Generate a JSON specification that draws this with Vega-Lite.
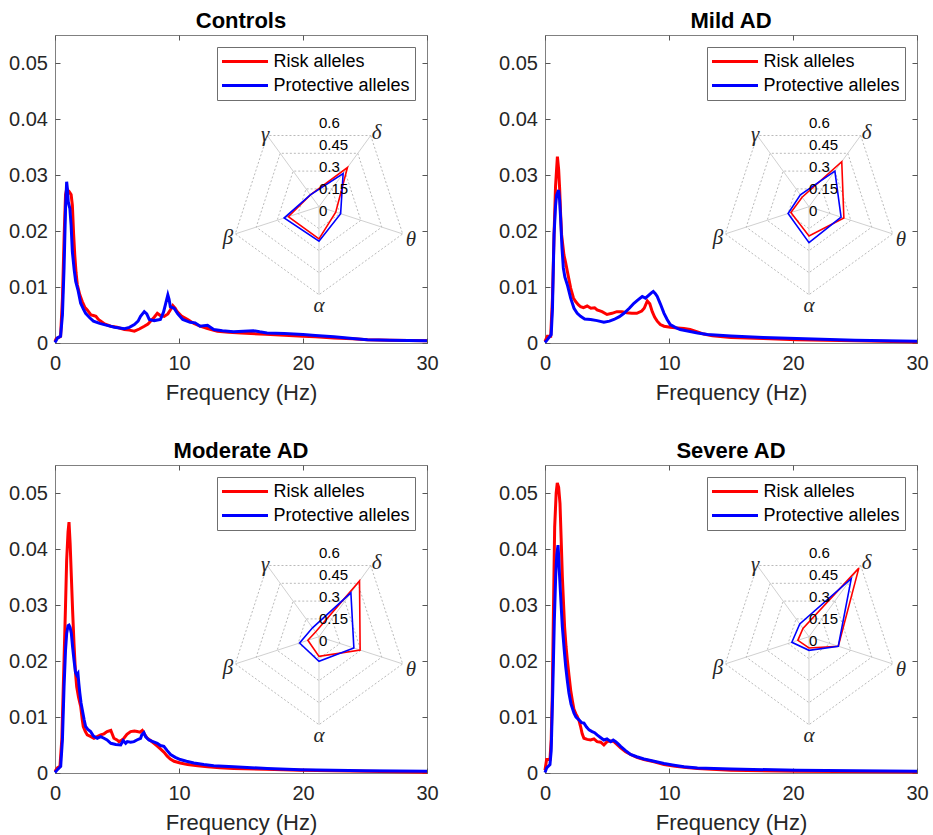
{
"$schema": "https://vega.github.io/schema/vega-lite/v6.json",
"padding": {"left": 8, "top": 9, "right": 5, "bottom": 2},
"background": "white",
"datasets": {
"psd": [
{"p":"C","g":"R","f":0,"v":0.0003},{"p":"C","g":"R","f":0.1,"v":0.0008},{"p":"C","g":"R","f":0.3,"v":0.001},{"p":"C","g":"R","f":0.45,"v":0.0012},{"p":"C","g":"R","f":0.6,"v":0.008},{"p":"C","g":"R","f":0.75,"v":0.02},{"p":"C","g":"R","f":0.85,"v":0.0265},{"p":"C","g":"R","f":0.95,"v":0.0276},{"p":"C","g":"R","f":1.05,"v":0.0268},{"p":"C","g":"R","f":1.15,"v":0.027},{"p":"C","g":"R","f":1.3,"v":0.0265},{"p":"C","g":"R","f":1.4,"v":0.0246},{"p":"C","g":"R","f":1.5,"v":0.0195},{"p":"C","g":"R","f":1.6,"v":0.0155},{"p":"C","g":"R","f":1.7,"v":0.0125},{"p":"C","g":"R","f":1.8,"v":0.0104},{"p":"C","g":"R","f":2,"v":0.0086},{"p":"C","g":"R","f":2.2,"v":0.0074},{"p":"C","g":"R","f":2.4,"v":0.0064},{"p":"C","g":"R","f":2.6,"v":0.0059},{"p":"C","g":"R","f":2.9,"v":0.005},{"p":"C","g":"R","f":3.1,"v":0.0049},{"p":"C","g":"R","f":3.3,"v":0.00475},{"p":"C","g":"R","f":3.5,"v":0.0042},{"p":"C","g":"R","f":3.7,"v":0.0039},{"p":"C","g":"R","f":4,"v":0.0034},{"p":"C","g":"R","f":4.5,"v":0.003},{"p":"C","g":"R","f":5,"v":0.0028},{"p":"C","g":"R","f":5.6,"v":0.0024},{"p":"C","g":"R","f":6,"v":0.0023},{"p":"C","g":"R","f":6.4,"v":0.0021},{"p":"C","g":"R","f":6.8,"v":0.0025},{"p":"C","g":"R","f":7.2,"v":0.003},{"p":"C","g":"R","f":7.5,"v":0.0034},{"p":"C","g":"R","f":7.7,"v":0.0039},{"p":"C","g":"R","f":8,"v":0.0046},{"p":"C","g":"R","f":8.25,"v":0.0053},{"p":"C","g":"R","f":8.5,"v":0.0049},{"p":"C","g":"R","f":8.8,"v":0.00475},{"p":"C","g":"R","f":9.1,"v":0.0052},{"p":"C","g":"R","f":9.3,"v":0.0059},{"p":"C","g":"R","f":9.5,"v":0.0067},{"p":"C","g":"R","f":9.7,"v":0.0062},{"p":"C","g":"R","f":9.85,"v":0.0056},{"p":"C","g":"R","f":10.2,"v":0.0048},{"p":"C","g":"R","f":10.7,"v":0.0042},{"p":"C","g":"R","f":11.2,"v":0.0035},{"p":"C","g":"R","f":11.7,"v":0.003},{"p":"C","g":"R","f":12.3,"v":0.0026},{"p":"C","g":"R","f":13.1,"v":0.0021},{"p":"C","g":"R","f":14,"v":0.0019},{"p":"C","g":"R","f":15,"v":0.0018},{"p":"C","g":"R","f":15.8,"v":0.0017},{"p":"C","g":"R","f":17,"v":0.00155},{"p":"C","g":"R","f":18.5,"v":0.0014},{"p":"C","g":"R","f":20,"v":0.0012},{"p":"C","g":"R","f":21,"v":0.0011},{"p":"C","g":"R","f":22.5,"v":0.0009},{"p":"C","g":"R","f":24,"v":0.00075},{"p":"C","g":"R","f":25.2,"v":0.0006},{"p":"C","g":"R","f":27,"v":0.0005},{"p":"C","g":"R","f":30,"v":0.0004},
{"p":"C","g":"P","f":0,"v":0.0001},{"p":"C","g":"P","f":0.2,"v":0.0009},{"p":"C","g":"P","f":0.45,"v":0.0012},{"p":"C","g":"P","f":0.6,"v":0.005},{"p":"C","g":"P","f":0.73,"v":0.0134},{"p":"C","g":"P","f":0.85,"v":0.024},{"p":"C","g":"P","f":0.94,"v":0.0288},{"p":"C","g":"P","f":1,"v":0.0275},{"p":"C","g":"P","f":1.07,"v":0.0252},{"p":"C","g":"P","f":1.2,"v":0.024},{"p":"C","g":"P","f":1.3,"v":0.021},{"p":"C","g":"P","f":1.4,"v":0.0163},{"p":"C","g":"P","f":1.55,"v":0.013},{"p":"C","g":"P","f":1.67,"v":0.011},{"p":"C","g":"P","f":1.85,"v":0.0095},{"p":"C","g":"P","f":2.07,"v":0.0071},{"p":"C","g":"P","f":2.3,"v":0.006},{"p":"C","g":"P","f":2.47,"v":0.0053},{"p":"C","g":"P","f":2.8,"v":0.0045},{"p":"C","g":"P","f":3.1,"v":0.0039},{"p":"C","g":"P","f":3.6,"v":0.0035},{"p":"C","g":"P","f":4.2,"v":0.00315},{"p":"C","g":"P","f":4.8,"v":0.0028},{"p":"C","g":"P","f":5.6,"v":0.00255},{"p":"C","g":"P","f":6,"v":0.0028},{"p":"C","g":"P","f":6.4,"v":0.0033},{"p":"C","g":"P","f":6.7,"v":0.0039},{"p":"C","g":"P","f":6.9,"v":0.00475},{"p":"C","g":"P","f":7.2,"v":0.0056},{"p":"C","g":"P","f":7.4,"v":0.0052},{"p":"C","g":"P","f":7.6,"v":0.0042},{"p":"C","g":"P","f":8,"v":0.004},{"p":"C","g":"P","f":8.5,"v":0.0042},{"p":"C","g":"P","f":8.75,"v":0.0055},{"p":"C","g":"P","f":8.9,"v":0.0068},{"p":"C","g":"P","f":9.1,"v":0.0086},{"p":"C","g":"P","f":9.2,"v":0.0078},{"p":"C","g":"P","f":9.3,"v":0.0065},{"p":"C","g":"P","f":9.6,"v":0.0062},{"p":"C","g":"P","f":9.9,"v":0.0052},{"p":"C","g":"P","f":10.3,"v":0.0042},{"p":"C","g":"P","f":10.9,"v":0.0037},{"p":"C","g":"P","f":11.3,"v":0.0036},{"p":"C","g":"P","f":11.7,"v":0.003},{"p":"C","g":"P","f":12,"v":0.0031},{"p":"C","g":"P","f":12.3,"v":0.00315},{"p":"C","g":"P","f":12.8,"v":0.0024},{"p":"C","g":"P","f":13.5,"v":0.0022},{"p":"C","g":"P","f":14.4,"v":0.002},{"p":"C","g":"P","f":15.2,"v":0.0021},{"p":"C","g":"P","f":16,"v":0.0022},{"p":"C","g":"P","f":16.5,"v":0.002},{"p":"C","g":"P","f":17.1,"v":0.0018},{"p":"C","g":"P","f":18.5,"v":0.0017},{"p":"C","g":"P","f":20,"v":0.0015},{"p":"C","g":"P","f":21,"v":0.00135},{"p":"C","g":"P","f":22.5,"v":0.0011},{"p":"C","g":"P","f":24,"v":0.0008},{"p":"C","g":"P","f":25.2,"v":0.0006},{"p":"C","g":"P","f":27,"v":0.0005},{"p":"C","g":"P","f":30,"v":0.0004},
{"p":"M","g":"R","f":0,"v":0.0003},{"p":"M","g":"R","f":0.19,"v":0.0012},{"p":"M","g":"R","f":0.46,"v":0.0012},{"p":"M","g":"R","f":0.6,"v":0.008},{"p":"M","g":"R","f":0.73,"v":0.0193},{"p":"M","g":"R","f":0.85,"v":0.028},{"p":"M","g":"R","f":1,"v":0.0333},{"p":"M","g":"R","f":1.1,"v":0.031},{"p":"M","g":"R","f":1.18,"v":0.0276},{"p":"M","g":"R","f":1.26,"v":0.023},{"p":"M","g":"R","f":1.34,"v":0.0193},{"p":"M","g":"R","f":1.53,"v":0.0157},{"p":"M","g":"R","f":1.65,"v":0.0145},{"p":"M","g":"R","f":1.8,"v":0.0128},{"p":"M","g":"R","f":2.07,"v":0.0098},{"p":"M","g":"R","f":2.3,"v":0.008},{"p":"M","g":"R","f":2.47,"v":0.0074},{"p":"M","g":"R","f":2.7,"v":0.0068},{"p":"M","g":"R","f":2.87,"v":0.0065},{"p":"M","g":"R","f":3.1,"v":0.0063},{"p":"M","g":"R","f":3.4,"v":0.0066},{"p":"M","g":"R","f":3.7,"v":0.0062},{"p":"M","g":"R","f":4,"v":0.0063},{"p":"M","g":"R","f":4.2,"v":0.0059},{"p":"M","g":"R","f":4.6,"v":0.0056},{"p":"M","g":"R","f":5,"v":0.0051},{"p":"M","g":"R","f":5.4,"v":0.0053},{"p":"M","g":"R","f":5.8,"v":0.0056},{"p":"M","g":"R","f":6.2,"v":0.0056},{"p":"M","g":"R","f":6.6,"v":0.0054},{"p":"M","g":"R","f":7,"v":0.0053},{"p":"M","g":"R","f":7.4,"v":0.0053},{"p":"M","g":"R","f":7.8,"v":0.0057},{"p":"M","g":"R","f":8,"v":0.0062},{"p":"M","g":"R","f":8.25,"v":0.0075},{"p":"M","g":"R","f":8.45,"v":0.007},{"p":"M","g":"R","f":8.65,"v":0.0056},{"p":"M","g":"R","f":8.85,"v":0.0046},{"p":"M","g":"R","f":9.05,"v":0.0039},{"p":"M","g":"R","f":9.3,"v":0.0033},{"p":"M","g":"R","f":9.6,"v":0.003},{"p":"M","g":"R","f":10.1,"v":0.0028},{"p":"M","g":"R","f":10.7,"v":0.0027},{"p":"M","g":"R","f":11.2,"v":0.0026},{"p":"M","g":"R","f":11.7,"v":0.0024},{"p":"M","g":"R","f":12.3,"v":0.002},{"p":"M","g":"R","f":12.8,"v":0.0016},{"p":"M","g":"R","f":13.5,"v":0.0013},{"p":"M","g":"R","f":15,"v":0.001},{"p":"M","g":"R","f":17.6,"v":0.0008},{"p":"M","g":"R","f":20.3,"v":0.0006},{"p":"M","g":"R","f":25,"v":0.0004},{"p":"M","g":"R","f":30,"v":0.0002},
{"p":"M","g":"P","f":0,"v":0.0001},{"p":"M","g":"P","f":0.19,"v":0.0006},{"p":"M","g":"P","f":0.5,"v":0.0015},{"p":"M","g":"P","f":0.6,"v":0.006},{"p":"M","g":"P","f":0.73,"v":0.0193},{"p":"M","g":"P","f":0.85,"v":0.0245},{"p":"M","g":"P","f":0.94,"v":0.0264},{"p":"M","g":"P","f":1.1,"v":0.0273},{"p":"M","g":"P","f":1.18,"v":0.0255},{"p":"M","g":"P","f":1.26,"v":0.0223},{"p":"M","g":"P","f":1.37,"v":0.017},{"p":"M","g":"P","f":1.48,"v":0.0134},{"p":"M","g":"P","f":1.6,"v":0.0118},{"p":"M","g":"P","f":1.8,"v":0.0104},{"p":"M","g":"P","f":2.07,"v":0.008},{"p":"M","g":"P","f":2.34,"v":0.0062},{"p":"M","g":"P","f":2.6,"v":0.0053},{"p":"M","g":"P","f":2.87,"v":0.00475},{"p":"M","g":"P","f":3.2,"v":0.0043},{"p":"M","g":"P","f":3.68,"v":0.0042},{"p":"M","g":"P","f":4.2,"v":0.004},{"p":"M","g":"P","f":4.75,"v":0.0037},{"p":"M","g":"P","f":5.2,"v":0.0039},{"p":"M","g":"P","f":5.56,"v":0.0042},{"p":"M","g":"P","f":6,"v":0.0047},{"p":"M","g":"P","f":6.37,"v":0.0053},{"p":"M","g":"P","f":6.8,"v":0.0062},{"p":"M","g":"P","f":7.17,"v":0.0071},{"p":"M","g":"P","f":7.5,"v":0.0077},{"p":"M","g":"P","f":7.84,"v":0.0083},{"p":"M","g":"P","f":8.1,"v":0.008},{"p":"M","g":"P","f":8.4,"v":0.0086},{"p":"M","g":"P","f":8.6,"v":0.009},{"p":"M","g":"P","f":8.73,"v":0.0092},{"p":"M","g":"P","f":8.9,"v":0.0088},{"p":"M","g":"P","f":9.05,"v":0.0083},{"p":"M","g":"P","f":9.3,"v":0.007},{"p":"M","g":"P","f":9.6,"v":0.0053},{"p":"M","g":"P","f":9.85,"v":0.0042},{"p":"M","g":"P","f":10.1,"v":0.0033},{"p":"M","g":"P","f":10.5,"v":0.0028},{"p":"M","g":"P","f":10.9,"v":0.0024},{"p":"M","g":"P","f":11.6,"v":0.0021},{"p":"M","g":"P","f":12.3,"v":0.0018},{"p":"M","g":"P","f":13.1,"v":0.0015},{"p":"M","g":"P","f":15,"v":0.00125},{"p":"M","g":"P","f":17.6,"v":0.001},{"p":"M","g":"P","f":20.3,"v":0.0008},{"p":"M","g":"P","f":25,"v":0.0005},{"p":"M","g":"P","f":30,"v":0.0003},
{"p":"Mo","g":"R","f":0,"v":0.0003},{"p":"Mo","g":"R","f":0.19,"v":0.0009},{"p":"Mo","g":"R","f":0.4,"v":0.0012},{"p":"Mo","g":"R","f":0.55,"v":0.006},{"p":"Mo","g":"R","f":0.73,"v":0.0202},{"p":"Mo","g":"R","f":0.85,"v":0.03},{"p":"Mo","g":"R","f":0.94,"v":0.038},{"p":"Mo","g":"R","f":1.05,"v":0.043},{"p":"Mo","g":"R","f":1.13,"v":0.0448},{"p":"Mo","g":"R","f":1.22,"v":0.041},{"p":"Mo","g":"R","f":1.32,"v":0.035},{"p":"Mo","g":"R","f":1.42,"v":0.029},{"p":"Mo","g":"R","f":1.53,"v":0.0232},{"p":"Mo","g":"R","f":1.65,"v":0.018},{"p":"Mo","g":"R","f":1.75,"v":0.0154},{"p":"Mo","g":"R","f":1.9,"v":0.0135},{"p":"Mo","g":"R","f":2.07,"v":0.0119},{"p":"Mo","g":"R","f":2.2,"v":0.0095},{"p":"Mo","g":"R","f":2.28,"v":0.0083},{"p":"Mo","g":"R","f":2.45,"v":0.0074},{"p":"Mo","g":"R","f":2.6,"v":0.0068},{"p":"Mo","g":"R","f":2.9,"v":0.0065},{"p":"Mo","g":"R","f":3.14,"v":0.0062},{"p":"Mo","g":"R","f":3.4,"v":0.0065},{"p":"Mo","g":"R","f":3.68,"v":0.0068},{"p":"Mo","g":"R","f":3.95,"v":0.007},{"p":"Mo","g":"R","f":4.2,"v":0.0074},{"p":"Mo","g":"R","f":4.5,"v":0.0076},{"p":"Mo","g":"R","f":4.75,"v":0.0062},{"p":"Mo","g":"R","f":5,"v":0.0059},{"p":"Mo","g":"R","f":5.16,"v":0.0056},{"p":"Mo","g":"R","f":5.4,"v":0.0059},{"p":"Mo","g":"R","f":5.56,"v":0.0062},{"p":"Mo","g":"R","f":5.8,"v":0.0069},{"p":"Mo","g":"R","f":6.1,"v":0.0074},{"p":"Mo","g":"R","f":6.4,"v":0.0075},{"p":"Mo","g":"R","f":6.63,"v":0.0074},{"p":"Mo","g":"R","f":6.85,"v":0.0073},{"p":"Mo","g":"R","f":7.04,"v":0.0076},{"p":"Mo","g":"R","f":7.2,"v":0.007},{"p":"Mo","g":"R","f":7.44,"v":0.0062},{"p":"Mo","g":"R","f":7.7,"v":0.0058},{"p":"Mo","g":"R","f":7.98,"v":0.0053},{"p":"Mo","g":"R","f":8.25,"v":0.0048},{"p":"Mo","g":"R","f":8.5,"v":0.0043},{"p":"Mo","g":"R","f":8.8,"v":0.0037},{"p":"Mo","g":"R","f":9.05,"v":0.003},{"p":"Mo","g":"R","f":9.3,"v":0.0025},{"p":"Mo","g":"R","f":9.6,"v":0.0021},{"p":"Mo","g":"R","f":10.1,"v":0.0018},{"p":"Mo","g":"R","f":10.7,"v":0.0015},{"p":"Mo","g":"R","f":11.5,"v":0.0013},{"p":"Mo","g":"R","f":12.3,"v":0.0011},{"p":"Mo","g":"R","f":13.3,"v":0.00095},{"p":"Mo","g":"R","f":14.4,"v":0.0008},{"p":"Mo","g":"R","f":17,"v":0.00065},{"p":"Mo","g":"R","f":19.8,"v":0.0005},{"p":"Mo","g":"R","f":25,"v":0.0003},{"p":"Mo","g":"R","f":30,"v":0.00015},
{"p":"Mo","g":"P","f":0,"v":0.0001},{"p":"Mo","g":"P","f":0.19,"v":0.0006},{"p":"Mo","g":"P","f":0.46,"v":0.0012},{"p":"Mo","g":"P","f":0.6,"v":0.006},{"p":"Mo","g":"P","f":0.73,"v":0.0154},{"p":"Mo","g":"P","f":0.85,"v":0.022},{"p":"Mo","g":"P","f":0.94,"v":0.0249},{"p":"Mo","g":"P","f":1.05,"v":0.0263},{"p":"Mo","g":"P","f":1.13,"v":0.0264},{"p":"Mo","g":"P","f":1.22,"v":0.026},{"p":"Mo","g":"P","f":1.32,"v":0.0249},{"p":"Mo","g":"P","f":1.42,"v":0.0225},{"p":"Mo","g":"P","f":1.53,"v":0.0202},{"p":"Mo","g":"P","f":1.65,"v":0.018},{"p":"Mo","g":"P","f":1.75,"v":0.0175},{"p":"Mo","g":"P","f":1.85,"v":0.0178},{"p":"Mo","g":"P","f":1.92,"v":0.016},{"p":"Mo","g":"P","f":2,"v":0.0143},{"p":"Mo","g":"P","f":2.1,"v":0.0125},{"p":"Mo","g":"P","f":2.2,"v":0.0113},{"p":"Mo","g":"P","f":2.35,"v":0.0095},{"p":"Mo","g":"P","f":2.47,"v":0.0083},{"p":"Mo","g":"P","f":2.65,"v":0.0078},{"p":"Mo","g":"P","f":2.87,"v":0.0074},{"p":"Mo","g":"P","f":3.1,"v":0.0066},{"p":"Mo","g":"P","f":3.41,"v":0.0062},{"p":"Mo","g":"P","f":3.68,"v":0.0065},{"p":"Mo","g":"P","f":3.95,"v":0.0062},{"p":"Mo","g":"P","f":4.2,"v":0.0059},{"p":"Mo","g":"P","f":4.5,"v":0.0053},{"p":"Mo","g":"P","f":4.9,"v":0.0051},{"p":"Mo","g":"P","f":5.3,"v":0.005},{"p":"Mo","g":"P","f":5.5,"v":0.0058},{"p":"Mo","g":"P","f":5.7,"v":0.0053},{"p":"Mo","g":"P","f":5.83,"v":0.0056},{"p":"Mo","g":"P","f":6.1,"v":0.0055},{"p":"Mo","g":"P","f":6.37,"v":0.0056},{"p":"Mo","g":"P","f":6.6,"v":0.0059},{"p":"Mo","g":"P","f":6.9,"v":0.0062},{"p":"Mo","g":"P","f":7,"v":0.0068},{"p":"Mo","g":"P","f":7.17,"v":0.0072},{"p":"Mo","g":"P","f":7.3,"v":0.0065},{"p":"Mo","g":"P","f":7.57,"v":0.0059},{"p":"Mo","g":"P","f":7.9,"v":0.0056},{"p":"Mo","g":"P","f":8.25,"v":0.0053},{"p":"Mo","g":"P","f":8.5,"v":0.0049},{"p":"Mo","g":"P","f":8.78,"v":0.00475},{"p":"Mo","g":"P","f":9.05,"v":0.004},{"p":"Mo","g":"P","f":9.32,"v":0.0033},{"p":"Mo","g":"P","f":9.7,"v":0.0028},{"p":"Mo","g":"P","f":10.1,"v":0.0024},{"p":"Mo","g":"P","f":10.6,"v":0.0021},{"p":"Mo","g":"P","f":11.2,"v":0.0018},{"p":"Mo","g":"P","f":12,"v":0.0015},{"p":"Mo","g":"P","f":12.8,"v":0.0013},{"p":"Mo","g":"P","f":14.4,"v":0.0011},{"p":"Mo","g":"P","f":17.1,"v":0.0008},{"p":"Mo","g":"P","f":19.8,"v":0.0006},{"p":"Mo","g":"P","f":25,"v":0.0004},{"p":"Mo","g":"P","f":30,"v":0.0003},
{"p":"S","g":"R","f":0,"v":0.0005},{"p":"S","g":"R","f":0.13,"v":0.0024},{"p":"S","g":"R","f":0.4,"v":0.0024},{"p":"S","g":"R","f":0.5,"v":0.006},{"p":"S","g":"R","f":0.59,"v":0.0143},{"p":"S","g":"R","f":0.7,"v":0.032},{"p":"S","g":"R","f":0.78,"v":0.0439},{"p":"S","g":"R","f":0.9,"v":0.05},{"p":"S","g":"R","f":0.99,"v":0.0518},{"p":"S","g":"R","f":1.1,"v":0.051},{"p":"S","g":"R","f":1.21,"v":0.0481},{"p":"S","g":"R","f":1.3,"v":0.042},{"p":"S","g":"R","f":1.4,"v":0.035},{"p":"S","g":"R","f":1.5,"v":0.03},{"p":"S","g":"R","f":1.58,"v":0.0261},{"p":"S","g":"R","f":1.7,"v":0.0225},{"p":"S","g":"R","f":1.8,"v":0.0202},{"p":"S","g":"R","f":1.93,"v":0.0175},{"p":"S","g":"R","f":2.07,"v":0.0148},{"p":"S","g":"R","f":2.2,"v":0.013},{"p":"S","g":"R","f":2.34,"v":0.0113},{"p":"S","g":"R","f":2.5,"v":0.0105},{"p":"S","g":"R","f":2.6,"v":0.0101},{"p":"S","g":"R","f":2.75,"v":0.0093},{"p":"S","g":"R","f":2.87,"v":0.0083},{"p":"S","g":"R","f":3,"v":0.007},{"p":"S","g":"R","f":3.14,"v":0.0062},{"p":"S","g":"R","f":3.4,"v":0.006},{"p":"S","g":"R","f":3.68,"v":0.0059},{"p":"S","g":"R","f":3.95,"v":0.0061},{"p":"S","g":"R","f":4.2,"v":0.0056},{"p":"S","g":"R","f":4.5,"v":0.0055},{"p":"S","g":"R","f":4.75,"v":0.005},{"p":"S","g":"R","f":5,"v":0.0056},{"p":"S","g":"R","f":5.3,"v":0.0057},{"p":"S","g":"R","f":5.56,"v":0.0056},{"p":"S","g":"R","f":5.8,"v":0.0051},{"p":"S","g":"R","f":6.1,"v":0.0045},{"p":"S","g":"R","f":6.5,"v":0.0038},{"p":"S","g":"R","f":6.9,"v":0.0033},{"p":"S","g":"R","f":7.4,"v":0.0028},{"p":"S","g":"R","f":7.98,"v":0.0024},{"p":"S","g":"R","f":8.8,"v":0.002},{"p":"S","g":"R","f":9.6,"v":0.0015},{"p":"S","g":"R","f":10.5,"v":0.0012},{"p":"S","g":"R","f":11.4,"v":0.001},{"p":"S","g":"R","f":12.3,"v":0.0008},{"p":"S","g":"R","f":15,"v":0.0005},{"p":"S","g":"R","f":20.3,"v":0.0003},{"p":"S","g":"R","f":30,"v":0.0002},
{"p":"S","g":"P","f":0,"v":0.0001},{"p":"S","g":"P","f":0.13,"v":0.0009},{"p":"S","g":"P","f":0.4,"v":0.0015},{"p":"S","g":"P","f":0.5,"v":0.004},{"p":"S","g":"P","f":0.62,"v":0.0143},{"p":"S","g":"P","f":0.75,"v":0.027},{"p":"S","g":"P","f":0.86,"v":0.035},{"p":"S","g":"P","f":0.95,"v":0.039},{"p":"S","g":"P","f":1.05,"v":0.0407},{"p":"S","g":"P","f":1.12,"v":0.038},{"p":"S","g":"P","f":1.18,"v":0.035},{"p":"S","g":"P","f":1.3,"v":0.03},{"p":"S","g":"P","f":1.4,"v":0.0261},{"p":"S","g":"P","f":1.55,"v":0.022},{"p":"S","g":"P","f":1.67,"v":0.019},{"p":"S","g":"P","f":1.8,"v":0.0165},{"p":"S","g":"P","f":1.93,"v":0.0143},{"p":"S","g":"P","f":2.1,"v":0.0123},{"p":"S","g":"P","f":2.34,"v":0.0107},{"p":"S","g":"P","f":2.5,"v":0.01},{"p":"S","g":"P","f":2.74,"v":0.0095},{"p":"S","g":"P","f":2.95,"v":0.009},{"p":"S","g":"P","f":3.14,"v":0.0089},{"p":"S","g":"P","f":3.35,"v":0.0082},{"p":"S","g":"P","f":3.55,"v":0.0077},{"p":"S","g":"P","f":3.8,"v":0.0074},{"p":"S","g":"P","f":4,"v":0.0072},{"p":"S","g":"P","f":4.2,"v":0.0068},{"p":"S","g":"P","f":4.5,"v":0.0063},{"p":"S","g":"P","f":4.75,"v":0.0059},{"p":"S","g":"P","f":5,"v":0.0061},{"p":"S","g":"P","f":5.3,"v":0.0056},{"p":"S","g":"P","f":5.5,"v":0.0059},{"p":"S","g":"P","f":5.7,"v":0.0056},{"p":"S","g":"P","f":5.9,"v":0.0052},{"p":"S","g":"P","f":6.1,"v":0.00475},{"p":"S","g":"P","f":6.5,"v":0.004},{"p":"S","g":"P","f":6.9,"v":0.0033},{"p":"S","g":"P","f":7.4,"v":0.0029},{"p":"S","g":"P","f":7.98,"v":0.0025},{"p":"S","g":"P","f":8.8,"v":0.0021},{"p":"S","g":"P","f":9.6,"v":0.0017},{"p":"S","g":"P","f":10.4,"v":0.0014},{"p":"S","g":"P","f":11.2,"v":0.0011},{"p":"S","g":"P","f":12.3,"v":0.0009},{"p":"S","g":"P","f":15,"v":0.0007},{"p":"S","g":"P","f":20.3,"v":0.0005},{"p":"S","g":"P","f":25,"v":0.0004},{"p":"S","g":"P","f":30,"v":0.0003}
],
"radar": [
{"p":"C","g":"R","band":"δ","val":0.33},{"p":"C","g":"R","band":"θ","val":0.12},{"p":"C","g":"R","band":"α","val":0.22},{"p":"C","g":"R","band":"β","val":0.22},{"p":"C","g":"R","band":"γ","val":0.1},
{"p":"C","g":"P","band":"δ","val":0.28},{"p":"C","g":"P","band":"θ","val":0.155},{"p":"C","g":"P","band":"α","val":0.235},{"p":"C","g":"P","band":"β","val":0.25},{"p":"C","g":"P","band":"γ","val":0.1},
{"p":"M","g":"R","band":"δ","val":0.38},{"p":"M","g":"R","band":"θ","val":0.25},{"p":"M","g":"R","band":"α","val":0.2},{"p":"M","g":"R","band":"β","val":0.13},{"p":"M","g":"R","band":"γ","val":0.08},
{"p":"M","g":"P","band":"δ","val":0.3},{"p":"M","g":"P","band":"θ","val":0.23},{"p":"M","g":"P","band":"α","val":0.245},{"p":"M","g":"P","band":"β","val":0.15},{"p":"M","g":"P","band":"γ","val":0.1},
{"p":"Mo","g":"R","band":"δ","val":0.47},{"p":"Mo","g":"R","band":"θ","val":0.295},{"p":"Mo","g":"R","band":"α","val":0.134},{"p":"Mo","g":"R","band":"β","val":0.08},{"p":"Mo","g":"R","band":"γ","val":0.04},
{"p":"Mo","g":"P","band":"δ","val":0.37},{"p":"Mo","g":"P","band":"θ","val":0.25},{"p":"Mo","g":"P","band":"α","val":0.168},{"p":"Mo","g":"P","band":"β","val":0.139},{"p":"Mo","g":"P","band":"γ","val":0.075},
{"p":"S","g":"R","band":"δ","val":0.578},{"p":"S","g":"R","band":"θ","val":0.21},{"p":"S","g":"R","band":"α","val":0.077},{"p":"S","g":"R","band":"β","val":0.08},{"p":"S","g":"R","band":"γ","val":0.07},
{"p":"S","g":"P","band":"δ","val":0.49},{"p":"S","g":"P","band":"θ","val":0.21},{"p":"S","g":"P","band":"α","val":0.093},{"p":"S","g":"P","band":"β","val":0.123},{"p":"S","g":"P","band":"γ","val":0.107}
],
"rings": [
{"r":0.15,"band":"δ"},{"r":0.15,"band":"θ"},{"r":0.15,"band":"α"},{"r":0.15,"band":"β"},{"r":0.15,"band":"γ"},
{"r":0.3,"band":"δ"},{"r":0.3,"band":"θ"},{"r":0.3,"band":"α"},{"r":0.3,"band":"β"},{"r":0.3,"band":"γ"},
{"r":0.45,"band":"δ"},{"r":0.45,"band":"θ"},{"r":0.45,"band":"α"},{"r":0.45,"band":"β"},{"r":0.45,"band":"γ"},
{"r":0.6,"band":"δ"},{"r":0.6,"band":"θ"},{"r":0.6,"band":"α"},{"r":0.6,"band":"β"},{"r":0.6,"band":"γ"}
],
"rticks": [{"t":0,"lab":"0"},{"t":0.15,"lab":"0.15"},{"t":0.3,"lab":"0.3"},{"t":0.45,"lab":"0.45"},{"t":0.6,"lab":"0.6"}]
},
"columns": 2,
"spacing": {"row": 122, "column": 118},
"bounds": "flush",
"resolve": {"scale": {"color": "independent"}, "legend": {"color": "independent"}},
"concat": [
{"title": "Controls", "width": 372, "height": 308,
 "resolve": {"scale": {"x": "independent", "y": "independent"}},
 "layer": [
  {"data": {"name": "psd"}, "transform": [{"filter": "datum.p == 'C'"}],
   "mark": {"type": "line", "strokeWidth": 3},
   "encoding": {
    "x": {"field": "f", "type": "quantitative", "scale": {"domain": [0, 30], "nice": false}, "axis": {"orient": "bottom", "values": [0, 10, 20, 30], "title": "Frequency (Hz)", "labelPadding": 15}},
    "y": {"field": "v", "type": "quantitative", "scale": {"domain": [0, 0.055], "nice": false}, "axis": {"orient": "left", "values": [0, 0.01, 0.02, 0.03, 0.04, 0.05], "format": "~g", "title": null, "labelPadding": 12.5}},
    "color": {"field": "g", "type": "nominal", "scale": {"domain": ["R", "P"], "range": ["#ff0000", "#0000ff"]}, "legend": {"title": null, "symbolType": "M-3,0H3", "labelExpr": "datum.value == 'R' ? 'Risk alleles' : 'Protective alleles'"}}
   }},
  {"data": {"name": "psd"}, "transform": [{"filter": "datum.p == 'C'"}],
   "mark": {"type": "point", "opacity": 0},
   "encoding": {
    "x": {"field": "f", "type": "quantitative", "scale": {"domain": [0, 30], "nice": false}, "axis": {"orient": "top", "values": [0, 10, 20, 30], "labels": false, "title": null}},
    "y": {"field": "v", "type": "quantitative", "scale": {"domain": [0, 0.055], "nice": false}, "axis": {"orient": "right", "values": [0, 0.01, 0.02, 0.03, 0.04, 0.05], "labels": false, "title": null}}
   }},
  {"layer": [
   {"data": {"name": "rings"}, "transform": [{"calculate": "indexof(['δ','θ','α','β','γ'], datum.band)", "as": "k"}, {"calculate": "datum.r * sin((36 + 72 * datum.k) * PI / 180)", "as": "gx"}, {"calculate": "datum.r * cos((36 + 72 * datum.k) * PI / 180)", "as": "gy"}],
    "mark": {"type": "line", "interpolate": "linear-closed", "stroke": "#a8a8a8", "strokeWidth": 0.8, "strokeDash": [2, 2]},
    "encoding": {"x": {"field": "gx", "type": "quantitative", "scale": {"domain": [-1.8, 0.7364], "nice": false, "zero": false}, "axis": null}, "y": {"field": "gy", "type": "quantitative", "scale": {"domain": [-0.9293, 1.1707], "nice": false, "zero": false}, "axis": null}, "detail": {"field": "r", "type": "nominal"}, "order": {"field": "k", "type": "quantitative"}}},
   {"data": {"name": "rings"}, "transform": [{"filter": "datum.r == 0.6"}, {"calculate": "indexof(['δ','θ','α','β','γ'], datum.band)", "as": "k"}, {"calculate": "datum.r * sin((36 + 72 * datum.k) * PI / 180)", "as": "gx"}, {"calculate": "datum.r * cos((36 + 72 * datum.k) * PI / 180)", "as": "gy"}],
    "mark": {"type": "rule", "stroke": "#c4c4c4", "strokeWidth": 0.8},
    "encoding": {"x": {"field": "gx", "type": "quantitative", "axis": null}, "y": {"field": "gy", "type": "quantitative", "axis": null}, "x2": {"datum": 0}, "y2": {"datum": 0}}},
   {"data": {"name": "radar"}, "transform": [{"filter": "datum.p == 'C' && datum.g == 'R'"}, {"calculate": "indexof(['δ','θ','α','β','γ'], datum.band)", "as": "k"}, {"calculate": "datum.val * sin((36 + 72 * datum.k) * PI / 180)", "as": "gx"}, {"calculate": "datum.val * cos((36 + 72 * datum.k) * PI / 180)", "as": "gy"}],
    "mark": {"type": "line", "interpolate": "linear-closed", "stroke": "#ff0000", "strokeWidth": 1.6},
    "encoding": {"x": {"field": "gx", "type": "quantitative", "axis": null}, "y": {"field": "gy", "type": "quantitative", "axis": null}, "order": {"field": "k", "type": "quantitative"}}},
   {"data": {"name": "radar"}, "transform": [{"filter": "datum.p == 'C' && datum.g == 'P'"}, {"calculate": "indexof(['δ','θ','α','β','γ'], datum.band)", "as": "k"}, {"calculate": "datum.val * sin((36 + 72 * datum.k) * PI / 180)", "as": "gx"}, {"calculate": "datum.val * cos((36 + 72 * datum.k) * PI / 180)", "as": "gy"}],
    "mark": {"type": "line", "interpolate": "linear-closed", "stroke": "#0000ff", "strokeWidth": 1.6},
    "encoding": {"x": {"field": "gx", "type": "quantitative", "axis": null}, "y": {"field": "gy", "type": "quantitative", "axis": null}, "order": {"field": "k", "type": "quantitative"}}},
   {"data": {"name": "rticks"},
    "mark": {"type": "text", "align": "left", "baseline": "middle", "dy": 4, "fontSize": 15, "font": "Liberation Sans", "color": "#000"},
    "encoding": {"x": {"datum": 0, "type": "quantitative", "axis": null}, "y": {"field": "t", "type": "quantitative", "axis": null}, "text": {"field": "lab"}}},
   {"data": {"name": "rings"}, "transform": [{"filter": "datum.r == 0.6 && datum.band == 'δ'"}, {"calculate": "datum.r * sin(36 * PI / 180)", "as": "gx"}, {"calculate": "datum.r * cos(36 * PI / 180)", "as": "gy"}],
    "mark": {"type": "text", "align": "left", "baseline": "middle", "dx": 1, "dy": -3, "fontSize": 21, "font": "Liberation Serif", "fontStyle": "italic", "color": "#262626"},
    "encoding": {"x": {"field": "gx", "type": "quantitative", "axis": null}, "y": {"field": "gy", "type": "quantitative", "axis": null}, "text": {"field": "band"}}},
   {"data": {"name": "rings"}, "transform": [{"filter": "datum.r == 0.6 && datum.band == 'θ'"}, {"calculate": "datum.r * sin(108 * PI / 180)", "as": "gx"}, {"calculate": "datum.r * cos(108 * PI / 180)", "as": "gy"}],
    "mark": {"type": "text", "align": "left", "baseline": "middle", "dx": 3, "dy": 6, "fontSize": 21, "font": "Liberation Serif", "fontStyle": "italic", "color": "#262626"},
    "encoding": {"x": {"field": "gx", "type": "quantitative", "axis": null}, "y": {"field": "gy", "type": "quantitative", "axis": null}, "text": {"field": "band"}}},
   {"data": {"name": "rings"}, "transform": [{"filter": "datum.r == 0.6 && datum.band == 'α'"}, {"calculate": "datum.r * sin(180 * PI / 180)", "as": "gx"}, {"calculate": "datum.r * cos(180 * PI / 180)", "as": "gy"}],
    "mark": {"type": "text", "align": "center", "baseline": "top", "dy": 0, "fontSize": 21, "font": "Liberation Serif", "fontStyle": "italic", "color": "#262626"},
    "encoding": {"x": {"field": "gx", "type": "quantitative", "axis": null}, "y": {"field": "gy", "type": "quantitative", "axis": null}, "text": {"field": "band"}}},
   {"data": {"name": "rings"}, "transform": [{"filter": "datum.r == 0.6 && datum.band == 'β'"}, {"calculate": "datum.r * sin(252 * PI / 180)", "as": "gx"}, {"calculate": "datum.r * cos(252 * PI / 180)", "as": "gy"}],
    "mark": {"type": "text", "align": "right", "baseline": "middle", "dx": -2, "dy": 4, "fontSize": 21, "font": "Liberation Serif", "fontStyle": "italic", "color": "#262626"},
    "encoding": {"x": {"field": "gx", "type": "quantitative", "axis": null}, "y": {"field": "gy", "type": "quantitative", "axis": null}, "text": {"field": "band"}}},
   {"data": {"name": "rings"}, "transform": [{"filter": "datum.r == 0.6 && datum.band == 'γ'"}, {"calculate": "datum.r * sin(324 * PI / 180)", "as": "gx"}, {"calculate": "datum.r * cos(324 * PI / 180)", "as": "gy"}],
    "mark": {"type": "text", "align": "right", "baseline": "middle", "dx": 2, "dy": -1, "fontSize": 21, "font": "Liberation Serif", "fontStyle": "italic", "color": "#262626"},
    "encoding": {"x": {"field": "gx", "type": "quantitative", "axis": null}, "y": {"field": "gy", "type": "quantitative", "axis": null}, "text": {"field": "band"}}}
  ]}
 ]},
{"title": "Mild AD", "width": 372, "height": 308,
 "resolve": {"scale": {"x": "independent", "y": "independent"}},
 "layer": [
  {"data": {"name": "psd"}, "transform": [{"filter": "datum.p == 'M'"}],
   "mark": {"type": "line", "strokeWidth": 3},
   "encoding": {
    "x": {"field": "f", "type": "quantitative", "scale": {"domain": [0, 30], "nice": false}, "axis": {"orient": "bottom", "values": [0, 10, 20, 30], "title": "Frequency (Hz)", "labelPadding": 15}},
    "y": {"field": "v", "type": "quantitative", "scale": {"domain": [0, 0.055], "nice": false}, "axis": {"orient": "left", "values": [0, 0.01, 0.02, 0.03, 0.04, 0.05], "format": "~g", "title": null, "labelPadding": 12.5}},
    "color": {"field": "g", "type": "nominal", "scale": {"domain": ["R", "P"], "range": ["#ff0000", "#0000ff"]}, "legend": {"title": null, "symbolType": "M-3,0H3", "labelExpr": "datum.value == 'R' ? 'Risk alleles' : 'Protective alleles'"}}
   }},
  {"data": {"name": "psd"}, "transform": [{"filter": "datum.p == 'M'"}],
   "mark": {"type": "point", "opacity": 0},
   "encoding": {
    "x": {"field": "f", "type": "quantitative", "scale": {"domain": [0, 30], "nice": false}, "axis": {"orient": "top", "values": [0, 10, 20, 30], "labels": false, "title": null}},
    "y": {"field": "v", "type": "quantitative", "scale": {"domain": [0, 0.055], "nice": false}, "axis": {"orient": "right", "values": [0, 0.01, 0.02, 0.03, 0.04, 0.05], "labels": false, "title": null}}
   }},
  {"layer": [
   {"data": {"name": "rings"}, "transform": [{"calculate": "indexof(['δ','θ','α','β','γ'], datum.band)", "as": "k"}, {"calculate": "datum.r * sin((36 + 72 * datum.k) * PI / 180)", "as": "gx"}, {"calculate": "datum.r * cos((36 + 72 * datum.k) * PI / 180)", "as": "gy"}],
    "mark": {"type": "line", "interpolate": "linear-closed", "stroke": "#a8a8a8", "strokeWidth": 0.8, "strokeDash": [2, 2]},
    "encoding": {"x": {"field": "gx", "type": "quantitative", "scale": {"domain": [-1.8, 0.7364], "nice": false, "zero": false}, "axis": null}, "y": {"field": "gy", "type": "quantitative", "scale": {"domain": [-0.9293, 1.1707], "nice": false, "zero": false}, "axis": null}, "detail": {"field": "r", "type": "nominal"}, "order": {"field": "k", "type": "quantitative"}}},
   {"data": {"name": "rings"}, "transform": [{"filter": "datum.r == 0.6"}, {"calculate": "indexof(['δ','θ','α','β','γ'], datum.band)", "as": "k"}, {"calculate": "datum.r * sin((36 + 72 * datum.k) * PI / 180)", "as": "gx"}, {"calculate": "datum.r * cos((36 + 72 * datum.k) * PI / 180)", "as": "gy"}],
    "mark": {"type": "rule", "stroke": "#c4c4c4", "strokeWidth": 0.8},
    "encoding": {"x": {"field": "gx", "type": "quantitative", "axis": null}, "y": {"field": "gy", "type": "quantitative", "axis": null}, "x2": {"datum": 0}, "y2": {"datum": 0}}},
   {"data": {"name": "radar"}, "transform": [{"filter": "datum.p == 'M' && datum.g == 'R'"}, {"calculate": "indexof(['δ','θ','α','β','γ'], datum.band)", "as": "k"}, {"calculate": "datum.val * sin((36 + 72 * datum.k) * PI / 180)", "as": "gx"}, {"calculate": "datum.val * cos((36 + 72 * datum.k) * PI / 180)", "as": "gy"}],
    "mark": {"type": "line", "interpolate": "linear-closed", "stroke": "#ff0000", "strokeWidth": 1.6},
    "encoding": {"x": {"field": "gx", "type": "quantitative", "axis": null}, "y": {"field": "gy", "type": "quantitative", "axis": null}, "order": {"field": "k", "type": "quantitative"}}},
   {"data": {"name": "radar"}, "transform": [{"filter": "datum.p == 'M' && datum.g == 'P'"}, {"calculate": "indexof(['δ','θ','α','β','γ'], datum.band)", "as": "k"}, {"calculate": "datum.val * sin((36 + 72 * datum.k) * PI / 180)", "as": "gx"}, {"calculate": "datum.val * cos((36 + 72 * datum.k) * PI / 180)", "as": "gy"}],
    "mark": {"type": "line", "interpolate": "linear-closed", "stroke": "#0000ff", "strokeWidth": 1.6},
    "encoding": {"x": {"field": "gx", "type": "quantitative", "axis": null}, "y": {"field": "gy", "type": "quantitative", "axis": null}, "order": {"field": "k", "type": "quantitative"}}},
   {"data": {"name": "rticks"},
    "mark": {"type": "text", "align": "left", "baseline": "middle", "dy": 4, "fontSize": 15, "font": "Liberation Sans", "color": "#000"},
    "encoding": {"x": {"datum": 0, "type": "quantitative", "axis": null}, "y": {"field": "t", "type": "quantitative", "axis": null}, "text": {"field": "lab"}}},
   {"data": {"name": "rings"}, "transform": [{"filter": "datum.r == 0.6 && datum.band == 'δ'"}, {"calculate": "datum.r * sin(36 * PI / 180)", "as": "gx"}, {"calculate": "datum.r * cos(36 * PI / 180)", "as": "gy"}],
    "mark": {"type": "text", "align": "left", "baseline": "middle", "dx": 1, "dy": -3, "fontSize": 21, "font": "Liberation Serif", "fontStyle": "italic", "color": "#262626"},
    "encoding": {"x": {"field": "gx", "type": "quantitative", "axis": null}, "y": {"field": "gy", "type": "quantitative", "axis": null}, "text": {"field": "band"}}},
   {"data": {"name": "rings"}, "transform": [{"filter": "datum.r == 0.6 && datum.band == 'θ'"}, {"calculate": "datum.r * sin(108 * PI / 180)", "as": "gx"}, {"calculate": "datum.r * cos(108 * PI / 180)", "as": "gy"}],
    "mark": {"type": "text", "align": "left", "baseline": "middle", "dx": 3, "dy": 6, "fontSize": 21, "font": "Liberation Serif", "fontStyle": "italic", "color": "#262626"},
    "encoding": {"x": {"field": "gx", "type": "quantitative", "axis": null}, "y": {"field": "gy", "type": "quantitative", "axis": null}, "text": {"field": "band"}}},
   {"data": {"name": "rings"}, "transform": [{"filter": "datum.r == 0.6 && datum.band == 'α'"}, {"calculate": "datum.r * sin(180 * PI / 180)", "as": "gx"}, {"calculate": "datum.r * cos(180 * PI / 180)", "as": "gy"}],
    "mark": {"type": "text", "align": "center", "baseline": "top", "dy": 0, "fontSize": 21, "font": "Liberation Serif", "fontStyle": "italic", "color": "#262626"},
    "encoding": {"x": {"field": "gx", "type": "quantitative", "axis": null}, "y": {"field": "gy", "type": "quantitative", "axis": null}, "text": {"field": "band"}}},
   {"data": {"name": "rings"}, "transform": [{"filter": "datum.r == 0.6 && datum.band == 'β'"}, {"calculate": "datum.r * sin(252 * PI / 180)", "as": "gx"}, {"calculate": "datum.r * cos(252 * PI / 180)", "as": "gy"}],
    "mark": {"type": "text", "align": "right", "baseline": "middle", "dx": -2, "dy": 4, "fontSize": 21, "font": "Liberation Serif", "fontStyle": "italic", "color": "#262626"},
    "encoding": {"x": {"field": "gx", "type": "quantitative", "axis": null}, "y": {"field": "gy", "type": "quantitative", "axis": null}, "text": {"field": "band"}}},
   {"data": {"name": "rings"}, "transform": [{"filter": "datum.r == 0.6 && datum.band == 'γ'"}, {"calculate": "datum.r * sin(324 * PI / 180)", "as": "gx"}, {"calculate": "datum.r * cos(324 * PI / 180)", "as": "gy"}],
    "mark": {"type": "text", "align": "right", "baseline": "middle", "dx": 2, "dy": -1, "fontSize": 21, "font": "Liberation Serif", "fontStyle": "italic", "color": "#262626"},
    "encoding": {"x": {"field": "gx", "type": "quantitative", "axis": null}, "y": {"field": "gy", "type": "quantitative", "axis": null}, "text": {"field": "band"}}}
  ]}
 ]},
{"title": "Moderate AD", "width": 372, "height": 308,
 "resolve": {"scale": {"x": "independent", "y": "independent"}},
 "layer": [
  {"data": {"name": "psd"}, "transform": [{"filter": "datum.p == 'Mo'"}],
   "mark": {"type": "line", "strokeWidth": 3},
   "encoding": {
    "x": {"field": "f", "type": "quantitative", "scale": {"domain": [0, 30], "nice": false}, "axis": {"orient": "bottom", "values": [0, 10, 20, 30], "title": "Frequency (Hz)", "labelPadding": 15}},
    "y": {"field": "v", "type": "quantitative", "scale": {"domain": [0, 0.055], "nice": false}, "axis": {"orient": "left", "values": [0, 0.01, 0.02, 0.03, 0.04, 0.05], "format": "~g", "title": null, "labelPadding": 12.5}},
    "color": {"field": "g", "type": "nominal", "scale": {"domain": ["R", "P"], "range": ["#ff0000", "#0000ff"]}, "legend": {"title": null, "symbolType": "M-3,0H3", "labelExpr": "datum.value == 'R' ? 'Risk alleles' : 'Protective alleles'"}}
   }},
  {"data": {"name": "psd"}, "transform": [{"filter": "datum.p == 'Mo'"}],
   "mark": {"type": "point", "opacity": 0},
   "encoding": {
    "x": {"field": "f", "type": "quantitative", "scale": {"domain": [0, 30], "nice": false}, "axis": {"orient": "top", "values": [0, 10, 20, 30], "labels": false, "title": null}},
    "y": {"field": "v", "type": "quantitative", "scale": {"domain": [0, 0.055], "nice": false}, "axis": {"orient": "right", "values": [0, 0.01, 0.02, 0.03, 0.04, 0.05], "labels": false, "title": null}}
   }},
  {"layer": [
   {"data": {"name": "rings"}, "transform": [{"calculate": "indexof(['δ','θ','α','β','γ'], datum.band)", "as": "k"}, {"calculate": "datum.r * sin((36 + 72 * datum.k) * PI / 180)", "as": "gx"}, {"calculate": "datum.r * cos((36 + 72 * datum.k) * PI / 180)", "as": "gy"}],
    "mark": {"type": "line", "interpolate": "linear-closed", "stroke": "#a8a8a8", "strokeWidth": 0.8, "strokeDash": [2, 2]},
    "encoding": {"x": {"field": "gx", "type": "quantitative", "scale": {"domain": [-1.8, 0.7364], "nice": false, "zero": false}, "axis": null}, "y": {"field": "gy", "type": "quantitative", "scale": {"domain": [-0.9293, 1.1707], "nice": false, "zero": false}, "axis": null}, "detail": {"field": "r", "type": "nominal"}, "order": {"field": "k", "type": "quantitative"}}},
   {"data": {"name": "rings"}, "transform": [{"filter": "datum.r == 0.6"}, {"calculate": "indexof(['δ','θ','α','β','γ'], datum.band)", "as": "k"}, {"calculate": "datum.r * sin((36 + 72 * datum.k) * PI / 180)", "as": "gx"}, {"calculate": "datum.r * cos((36 + 72 * datum.k) * PI / 180)", "as": "gy"}],
    "mark": {"type": "rule", "stroke": "#c4c4c4", "strokeWidth": 0.8},
    "encoding": {"x": {"field": "gx", "type": "quantitative", "axis": null}, "y": {"field": "gy", "type": "quantitative", "axis": null}, "x2": {"datum": 0}, "y2": {"datum": 0}}},
   {"data": {"name": "radar"}, "transform": [{"filter": "datum.p == 'Mo' && datum.g == 'R'"}, {"calculate": "indexof(['δ','θ','α','β','γ'], datum.band)", "as": "k"}, {"calculate": "datum.val * sin((36 + 72 * datum.k) * PI / 180)", "as": "gx"}, {"calculate": "datum.val * cos((36 + 72 * datum.k) * PI / 180)", "as": "gy"}],
    "mark": {"type": "line", "interpolate": "linear-closed", "stroke": "#ff0000", "strokeWidth": 1.6},
    "encoding": {"x": {"field": "gx", "type": "quantitative", "axis": null}, "y": {"field": "gy", "type": "quantitative", "axis": null}, "order": {"field": "k", "type": "quantitative"}}},
   {"data": {"name": "radar"}, "transform": [{"filter": "datum.p == 'Mo' && datum.g == 'P'"}, {"calculate": "indexof(['δ','θ','α','β','γ'], datum.band)", "as": "k"}, {"calculate": "datum.val * sin((36 + 72 * datum.k) * PI / 180)", "as": "gx"}, {"calculate": "datum.val * cos((36 + 72 * datum.k) * PI / 180)", "as": "gy"}],
    "mark": {"type": "line", "interpolate": "linear-closed", "stroke": "#0000ff", "strokeWidth": 1.6},
    "encoding": {"x": {"field": "gx", "type": "quantitative", "axis": null}, "y": {"field": "gy", "type": "quantitative", "axis": null}, "order": {"field": "k", "type": "quantitative"}}},
   {"data": {"name": "rticks"},
    "mark": {"type": "text", "align": "left", "baseline": "middle", "dy": 4, "fontSize": 15, "font": "Liberation Sans", "color": "#000"},
    "encoding": {"x": {"datum": 0, "type": "quantitative", "axis": null}, "y": {"field": "t", "type": "quantitative", "axis": null}, "text": {"field": "lab"}}},
   {"data": {"name": "rings"}, "transform": [{"filter": "datum.r == 0.6 && datum.band == 'δ'"}, {"calculate": "datum.r * sin(36 * PI / 180)", "as": "gx"}, {"calculate": "datum.r * cos(36 * PI / 180)", "as": "gy"}],
    "mark": {"type": "text", "align": "left", "baseline": "middle", "dx": 1, "dy": -3, "fontSize": 21, "font": "Liberation Serif", "fontStyle": "italic", "color": "#262626"},
    "encoding": {"x": {"field": "gx", "type": "quantitative", "axis": null}, "y": {"field": "gy", "type": "quantitative", "axis": null}, "text": {"field": "band"}}},
   {"data": {"name": "rings"}, "transform": [{"filter": "datum.r == 0.6 && datum.band == 'θ'"}, {"calculate": "datum.r * sin(108 * PI / 180)", "as": "gx"}, {"calculate": "datum.r * cos(108 * PI / 180)", "as": "gy"}],
    "mark": {"type": "text", "align": "left", "baseline": "middle", "dx": 3, "dy": 6, "fontSize": 21, "font": "Liberation Serif", "fontStyle": "italic", "color": "#262626"},
    "encoding": {"x": {"field": "gx", "type": "quantitative", "axis": null}, "y": {"field": "gy", "type": "quantitative", "axis": null}, "text": {"field": "band"}}},
   {"data": {"name": "rings"}, "transform": [{"filter": "datum.r == 0.6 && datum.band == 'α'"}, {"calculate": "datum.r * sin(180 * PI / 180)", "as": "gx"}, {"calculate": "datum.r * cos(180 * PI / 180)", "as": "gy"}],
    "mark": {"type": "text", "align": "center", "baseline": "top", "dy": 0, "fontSize": 21, "font": "Liberation Serif", "fontStyle": "italic", "color": "#262626"},
    "encoding": {"x": {"field": "gx", "type": "quantitative", "axis": null}, "y": {"field": "gy", "type": "quantitative", "axis": null}, "text": {"field": "band"}}},
   {"data": {"name": "rings"}, "transform": [{"filter": "datum.r == 0.6 && datum.band == 'β'"}, {"calculate": "datum.r * sin(252 * PI / 180)", "as": "gx"}, {"calculate": "datum.r * cos(252 * PI / 180)", "as": "gy"}],
    "mark": {"type": "text", "align": "right", "baseline": "middle", "dx": -2, "dy": 4, "fontSize": 21, "font": "Liberation Serif", "fontStyle": "italic", "color": "#262626"},
    "encoding": {"x": {"field": "gx", "type": "quantitative", "axis": null}, "y": {"field": "gy", "type": "quantitative", "axis": null}, "text": {"field": "band"}}},
   {"data": {"name": "rings"}, "transform": [{"filter": "datum.r == 0.6 && datum.band == 'γ'"}, {"calculate": "datum.r * sin(324 * PI / 180)", "as": "gx"}, {"calculate": "datum.r * cos(324 * PI / 180)", "as": "gy"}],
    "mark": {"type": "text", "align": "right", "baseline": "middle", "dx": 2, "dy": -1, "fontSize": 21, "font": "Liberation Serif", "fontStyle": "italic", "color": "#262626"},
    "encoding": {"x": {"field": "gx", "type": "quantitative", "axis": null}, "y": {"field": "gy", "type": "quantitative", "axis": null}, "text": {"field": "band"}}}
  ]}
 ]},
{"title": "Severe AD", "width": 372, "height": 308,
 "resolve": {"scale": {"x": "independent", "y": "independent"}},
 "layer": [
  {"data": {"name": "psd"}, "transform": [{"filter": "datum.p == 'S'"}],
   "mark": {"type": "line", "strokeWidth": 3},
   "encoding": {
    "x": {"field": "f", "type": "quantitative", "scale": {"domain": [0, 30], "nice": false}, "axis": {"orient": "bottom", "values": [0, 10, 20, 30], "title": "Frequency (Hz)", "labelPadding": 15}},
    "y": {"field": "v", "type": "quantitative", "scale": {"domain": [0, 0.055], "nice": false}, "axis": {"orient": "left", "values": [0, 0.01, 0.02, 0.03, 0.04, 0.05], "format": "~g", "title": null, "labelPadding": 12.5}},
    "color": {"field": "g", "type": "nominal", "scale": {"domain": ["R", "P"], "range": ["#ff0000", "#0000ff"]}, "legend": {"title": null, "symbolType": "M-3,0H3", "labelExpr": "datum.value == 'R' ? 'Risk alleles' : 'Protective alleles'"}}
   }},
  {"data": {"name": "psd"}, "transform": [{"filter": "datum.p == 'S'"}],
   "mark": {"type": "point", "opacity": 0},
   "encoding": {
    "x": {"field": "f", "type": "quantitative", "scale": {"domain": [0, 30], "nice": false}, "axis": {"orient": "top", "values": [0, 10, 20, 30], "labels": false, "title": null}},
    "y": {"field": "v", "type": "quantitative", "scale": {"domain": [0, 0.055], "nice": false}, "axis": {"orient": "right", "values": [0, 0.01, 0.02, 0.03, 0.04, 0.05], "labels": false, "title": null}}
   }},
  {"layer": [
   {"data": {"name": "rings"}, "transform": [{"calculate": "indexof(['δ','θ','α','β','γ'], datum.band)", "as": "k"}, {"calculate": "datum.r * sin((36 + 72 * datum.k) * PI / 180)", "as": "gx"}, {"calculate": "datum.r * cos((36 + 72 * datum.k) * PI / 180)", "as": "gy"}],
    "mark": {"type": "line", "interpolate": "linear-closed", "stroke": "#a8a8a8", "strokeWidth": 0.8, "strokeDash": [2, 2]},
    "encoding": {"x": {"field": "gx", "type": "quantitative", "scale": {"domain": [-1.8, 0.7364], "nice": false, "zero": false}, "axis": null}, "y": {"field": "gy", "type": "quantitative", "scale": {"domain": [-0.9293, 1.1707], "nice": false, "zero": false}, "axis": null}, "detail": {"field": "r", "type": "nominal"}, "order": {"field": "k", "type": "quantitative"}}},
   {"data": {"name": "rings"}, "transform": [{"filter": "datum.r == 0.6"}, {"calculate": "indexof(['δ','θ','α','β','γ'], datum.band)", "as": "k"}, {"calculate": "datum.r * sin((36 + 72 * datum.k) * PI / 180)", "as": "gx"}, {"calculate": "datum.r * cos((36 + 72 * datum.k) * PI / 180)", "as": "gy"}],
    "mark": {"type": "rule", "stroke": "#c4c4c4", "strokeWidth": 0.8},
    "encoding": {"x": {"field": "gx", "type": "quantitative", "axis": null}, "y": {"field": "gy", "type": "quantitative", "axis": null}, "x2": {"datum": 0}, "y2": {"datum": 0}}},
   {"data": {"name": "radar"}, "transform": [{"filter": "datum.p == 'S' && datum.g == 'R'"}, {"calculate": "indexof(['δ','θ','α','β','γ'], datum.band)", "as": "k"}, {"calculate": "datum.val * sin((36 + 72 * datum.k) * PI / 180)", "as": "gx"}, {"calculate": "datum.val * cos((36 + 72 * datum.k) * PI / 180)", "as": "gy"}],
    "mark": {"type": "line", "interpolate": "linear-closed", "stroke": "#ff0000", "strokeWidth": 1.6},
    "encoding": {"x": {"field": "gx", "type": "quantitative", "axis": null}, "y": {"field": "gy", "type": "quantitative", "axis": null}, "order": {"field": "k", "type": "quantitative"}}},
   {"data": {"name": "radar"}, "transform": [{"filter": "datum.p == 'S' && datum.g == 'P'"}, {"calculate": "indexof(['δ','θ','α','β','γ'], datum.band)", "as": "k"}, {"calculate": "datum.val * sin((36 + 72 * datum.k) * PI / 180)", "as": "gx"}, {"calculate": "datum.val * cos((36 + 72 * datum.k) * PI / 180)", "as": "gy"}],
    "mark": {"type": "line", "interpolate": "linear-closed", "stroke": "#0000ff", "strokeWidth": 1.6},
    "encoding": {"x": {"field": "gx", "type": "quantitative", "axis": null}, "y": {"field": "gy", "type": "quantitative", "axis": null}, "order": {"field": "k", "type": "quantitative"}}},
   {"data": {"name": "rticks"},
    "mark": {"type": "text", "align": "left", "baseline": "middle", "dy": 4, "fontSize": 15, "font": "Liberation Sans", "color": "#000"},
    "encoding": {"x": {"datum": 0, "type": "quantitative", "axis": null}, "y": {"field": "t", "type": "quantitative", "axis": null}, "text": {"field": "lab"}}},
   {"data": {"name": "rings"}, "transform": [{"filter": "datum.r == 0.6 && datum.band == 'δ'"}, {"calculate": "datum.r * sin(36 * PI / 180)", "as": "gx"}, {"calculate": "datum.r * cos(36 * PI / 180)", "as": "gy"}],
    "mark": {"type": "text", "align": "left", "baseline": "middle", "dx": 1, "dy": -3, "fontSize": 21, "font": "Liberation Serif", "fontStyle": "italic", "color": "#262626"},
    "encoding": {"x": {"field": "gx", "type": "quantitative", "axis": null}, "y": {"field": "gy", "type": "quantitative", "axis": null}, "text": {"field": "band"}}},
   {"data": {"name": "rings"}, "transform": [{"filter": "datum.r == 0.6 && datum.band == 'θ'"}, {"calculate": "datum.r * sin(108 * PI / 180)", "as": "gx"}, {"calculate": "datum.r * cos(108 * PI / 180)", "as": "gy"}],
    "mark": {"type": "text", "align": "left", "baseline": "middle", "dx": 3, "dy": 6, "fontSize": 21, "font": "Liberation Serif", "fontStyle": "italic", "color": "#262626"},
    "encoding": {"x": {"field": "gx", "type": "quantitative", "axis": null}, "y": {"field": "gy", "type": "quantitative", "axis": null}, "text": {"field": "band"}}},
   {"data": {"name": "rings"}, "transform": [{"filter": "datum.r == 0.6 && datum.band == 'α'"}, {"calculate": "datum.r * sin(180 * PI / 180)", "as": "gx"}, {"calculate": "datum.r * cos(180 * PI / 180)", "as": "gy"}],
    "mark": {"type": "text", "align": "center", "baseline": "top", "dy": 0, "fontSize": 21, "font": "Liberation Serif", "fontStyle": "italic", "color": "#262626"},
    "encoding": {"x": {"field": "gx", "type": "quantitative", "axis": null}, "y": {"field": "gy", "type": "quantitative", "axis": null}, "text": {"field": "band"}}},
   {"data": {"name": "rings"}, "transform": [{"filter": "datum.r == 0.6 && datum.band == 'β'"}, {"calculate": "datum.r * sin(252 * PI / 180)", "as": "gx"}, {"calculate": "datum.r * cos(252 * PI / 180)", "as": "gy"}],
    "mark": {"type": "text", "align": "right", "baseline": "middle", "dx": -2, "dy": 4, "fontSize": 21, "font": "Liberation Serif", "fontStyle": "italic", "color": "#262626"},
    "encoding": {"x": {"field": "gx", "type": "quantitative", "axis": null}, "y": {"field": "gy", "type": "quantitative", "axis": null}, "text": {"field": "band"}}},
   {"data": {"name": "rings"}, "transform": [{"filter": "datum.r == 0.6 && datum.band == 'γ'"}, {"calculate": "datum.r * sin(324 * PI / 180)", "as": "gx"}, {"calculate": "datum.r * cos(324 * PI / 180)", "as": "gy"}],
    "mark": {"type": "text", "align": "right", "baseline": "middle", "dx": 2, "dy": -1, "fontSize": 21, "font": "Liberation Serif", "fontStyle": "italic", "color": "#262626"},
    "encoding": {"x": {"field": "gx", "type": "quantitative", "axis": null}, "y": {"field": "gy", "type": "quantitative", "axis": null}, "text": {"field": "band"}}}
  ]}
 ]}
],
"config": {
 "font": "Liberation Sans",
 "view": {"stroke": "#808080", "strokeWidth": 1},
 "axis": {"domain": false, "grid": false, "ticks": true, "tickSize": -5, "tickColor": "#555555", "tickWidth": 1, "labelFont": "Liberation Sans", "labelFontSize": 20, "labelColor": "#262626", "labelFlush": false, "labelOverlap": false, "titleFont": "Liberation Sans", "titleFontSize": 22, "titleFontWeight": "normal", "titleColor": "#262626", "titlePadding": 9},
 "title": {"font": "Liberation Sans", "fontSize": 22, "fontWeight": "bold", "color": "#000000", "offset": 2},
 "legend": {"orient": "top-right", "offset": 12, "labelFont": "Liberation Sans", "labelFontSize": 18, "labelColor": "#000000", "symbolSize": 235, "symbolStrokeWidth": 3, "symbolOffset": 13.5, "labelOffset": 19, "padding": 5, "rowPadding": 5, "strokeColor": "#6f6f6f", "fillColor": "#ffffff", "labelLimit": 0, "symbolFillColor": "transparent"}
}
}
